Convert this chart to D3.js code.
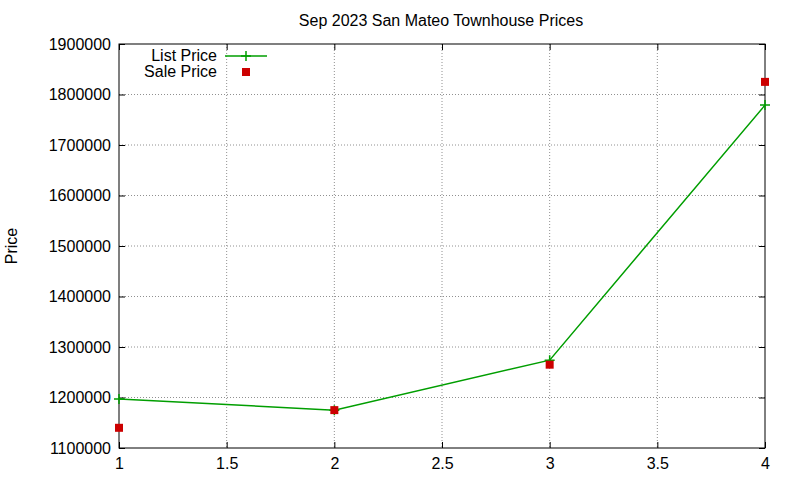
<!DOCTYPE html>
<html><head><meta charset="utf-8">
<script src="https://cdn.jsdelivr.net/npm/d3@7"></script>
<style>body{margin:0;background:#fff}svg{display:block}text{font-family:"Liberation Sans",Arial,sans-serif;font-size:16px}</style>
</head><body><svg id="c" width="800" height="480"></svg>
<script>
const xs = [1, 2, 3, 4];
const listPrice = [1197000, 1175000, 1274000, 1779000];
const salePrice = [1140000, 1175000, 1265000, 1825000];
const xTicks = [1, 1.5, 2, 2.5, 3, 3.5, 4];
const yTicks = d3.range(1100000, 1900001, 100000);

const svg = d3.select("#c");
const L = 119, R = 765, T = 44, B = 448;
const x = d3.scaleLinear().domain([1, 4]).range([L, R]);
const y = d3.scaleLinear().domain([1100000, 1900000]).range([B, T]);

// grid
svg.append("g").selectAll("line").data(xTicks.slice(1, -1)).join("line")
  .attr("x1", d => x(d)).attr("x2", d => x(d)).attr("y1", T).attr("y2", B)
  .attr("stroke", "#909090").attr("stroke-dasharray", "1,2");
svg.append("g").selectAll("line").data(yTicks.slice(1, -1)).join("line")
  .attr("x1", L).attr("x2", R).attr("y1", d => y(d)).attr("y2", d => y(d))
  .attr("stroke", "#909090").attr("stroke-dasharray", "1,2");

// axes (ticks inward, mirrored)
const ax = g => g.selectAll(".domain").remove();
svg.append("g").attr("transform", `translate(0,${B})`)
  .call(d3.axisBottom(x).tickValues(xTicks).tickSize(-6).tickPadding(10).tickFormat(d3.format("")))
  .call(ax).selectAll("text").attr("fill", "#000").style("font-size", "16px");
svg.append("g").attr("transform", `translate(0,${T})`)
  .call(d3.axisTop(x).tickValues(xTicks).tickSize(-6).tickFormat("")).call(ax);
svg.append("g").attr("transform", `translate(${L},0)`)
  .call(d3.axisLeft(y).tickValues(yTicks).tickSize(-6).tickPadding(8).tickFormat(d3.format("d")))
  .call(ax).selectAll("text").attr("fill", "#000").style("font-size", "16px");
svg.append("g").attr("transform", `translate(${R},0)`)
  .call(d3.axisRight(y).tickValues(yTicks).tickSize(-6).tickFormat("")).call(ax);
svg.selectAll(".tick line").attr("stroke", "#000");
svg.append("rect").attr("x", L).attr("y", T).attr("width", R - L).attr("height", B - T)
  .attr("fill", "none").attr("stroke", "#000");

// title & label
svg.append("text").attr("x", 441).attr("y", 26).attr("text-anchor", "middle").text("Sep 2023 San Mateo Townhouse Prices");
svg.append("text").attr("transform", "translate(17,246) rotate(-90)").attr("text-anchor", "middle").text("Price");

const green = "#009e00", red = "#cc0000";
const plus = (g, cx, cy) => g.append("path").attr("d", `M${cx-5},${cy}h10M${cx},${cy-5}v10`).attr("stroke", green).attr("stroke-width", 1.5);

svg.append("path").datum(xs.map((d, i) => [d, listPrice[i]]))
  .attr("d", d3.line().x(d => x(d[0])).y(d => y(d[1])))
  .attr("fill", "none").attr("stroke", green).attr("stroke-width", 1.5);
const pg = svg.append("g");
xs.forEach((d, i) => plus(pg, x(d), y(listPrice[i])));
svg.append("g").selectAll("rect").data(xs).join("rect")
  .attr("x", (d, i) => x(d) - 4).attr("y", (d, i) => y(salePrice[i]) - 4)
  .attr("width", 8).attr("height", 8).attr("fill", red);

// legend
svg.append("text").attr("x", 217).attr("y", 61).attr("text-anchor", "end").text("List Price");
svg.append("line").attr("x1", 225).attr("x2", 267).attr("y1", 56).attr("y2", 56).attr("stroke", green).attr("stroke-width", 1.5);
plus(svg, 246, 56);
svg.append("text").attr("x", 217).attr("y", 77).attr("text-anchor", "end").text("Sale Price");
svg.append("rect").attr("x", 242).attr("y", 68).attr("width", 8).attr("height", 8).attr("fill", red);
</script></body></html>
